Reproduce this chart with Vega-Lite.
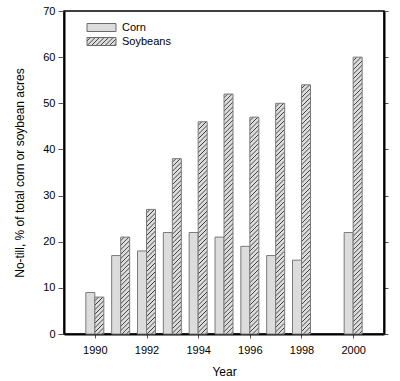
{
  "$schema": "https://vega.github.io/schema/vega-lite/v6.json",
  "width": 320,
  "height": 323,
  "autosize": "none",
  "padding": {"left": 64, "top": 11, "right": 16, "bottom": 47},
  "background": "white",
  "params": [
    {"name": "hatch", "value": [
      {"offset":0,"color":"#dcdcdc"},{"offset":0.006,"color":"#dcdcdc"},{"offset":0.008,"color":"#333333"},
      {"offset":0.01,"color":"#dcdcdc"},{"offset":0.016,"color":"#dcdcdc"},{"offset":0.018,"color":"#333333"},
      {"offset":0.02,"color":"#dcdcdc"},{"offset":0.026,"color":"#dcdcdc"},{"offset":0.028,"color":"#333333"},
      {"offset":0.03,"color":"#dcdcdc"},{"offset":0.036,"color":"#dcdcdc"},{"offset":0.038,"color":"#333333"},
      {"offset":0.04,"color":"#dcdcdc"},{"offset":0.046,"color":"#dcdcdc"},{"offset":0.048,"color":"#333333"},
      {"offset":0.05,"color":"#dcdcdc"},{"offset":0.056,"color":"#dcdcdc"},{"offset":0.058,"color":"#333333"},
      {"offset":0.06,"color":"#dcdcdc"},{"offset":0.066,"color":"#dcdcdc"},{"offset":0.068,"color":"#333333"},
      {"offset":0.07,"color":"#dcdcdc"},{"offset":0.076,"color":"#dcdcdc"},{"offset":0.078,"color":"#333333"},
      {"offset":0.08,"color":"#dcdcdc"},{"offset":0.086,"color":"#dcdcdc"},{"offset":0.088,"color":"#333333"},
      {"offset":0.09,"color":"#dcdcdc"},{"offset":0.096,"color":"#dcdcdc"},{"offset":0.098,"color":"#333333"},
      {"offset":0.10,"color":"#dcdcdc"},{"offset":0.106,"color":"#dcdcdc"},{"offset":0.108,"color":"#333333"},
      {"offset":0.11,"color":"#dcdcdc"},{"offset":0.116,"color":"#dcdcdc"},{"offset":0.118,"color":"#333333"},
      {"offset":0.12,"color":"#dcdcdc"},{"offset":0.126,"color":"#dcdcdc"},{"offset":0.128,"color":"#333333"},
      {"offset":0.13,"color":"#dcdcdc"},{"offset":0.136,"color":"#dcdcdc"},{"offset":0.138,"color":"#333333"},
      {"offset":0.14,"color":"#dcdcdc"},{"offset":0.146,"color":"#dcdcdc"},{"offset":0.148,"color":"#333333"},
      {"offset":0.15,"color":"#dcdcdc"},{"offset":0.156,"color":"#dcdcdc"},{"offset":0.158,"color":"#333333"},
      {"offset":0.16,"color":"#dcdcdc"},{"offset":0.166,"color":"#dcdcdc"},{"offset":0.168,"color":"#333333"},
      {"offset":0.17,"color":"#dcdcdc"},{"offset":0.176,"color":"#dcdcdc"},{"offset":0.178,"color":"#333333"},
      {"offset":0.18,"color":"#dcdcdc"},{"offset":0.186,"color":"#dcdcdc"},{"offset":0.188,"color":"#333333"},
      {"offset":0.19,"color":"#dcdcdc"},{"offset":0.196,"color":"#dcdcdc"},{"offset":0.198,"color":"#333333"},
      {"offset":0.20,"color":"#dcdcdc"},{"offset":0.206,"color":"#dcdcdc"},{"offset":0.208,"color":"#333333"},
      {"offset":0.21,"color":"#dcdcdc"},{"offset":0.216,"color":"#dcdcdc"},{"offset":0.218,"color":"#333333"},
      {"offset":0.22,"color":"#dcdcdc"},{"offset":0.226,"color":"#dcdcdc"},{"offset":0.228,"color":"#333333"},
      {"offset":0.23,"color":"#dcdcdc"},{"offset":0.236,"color":"#dcdcdc"},{"offset":0.238,"color":"#333333"},
      {"offset":0.24,"color":"#dcdcdc"},{"offset":0.246,"color":"#dcdcdc"},{"offset":0.248,"color":"#333333"},
      {"offset":0.25,"color":"#dcdcdc"},{"offset":0.256,"color":"#dcdcdc"},{"offset":0.258,"color":"#333333"},
      {"offset":0.26,"color":"#dcdcdc"},{"offset":0.266,"color":"#dcdcdc"},{"offset":0.268,"color":"#333333"},
      {"offset":0.27,"color":"#dcdcdc"},{"offset":0.276,"color":"#dcdcdc"},{"offset":0.278,"color":"#333333"},
      {"offset":0.28,"color":"#dcdcdc"},{"offset":0.286,"color":"#dcdcdc"},{"offset":0.288,"color":"#333333"},
      {"offset":0.29,"color":"#dcdcdc"},{"offset":0.296,"color":"#dcdcdc"},{"offset":0.298,"color":"#333333"},
      {"offset":0.30,"color":"#dcdcdc"},{"offset":0.306,"color":"#dcdcdc"},{"offset":0.308,"color":"#333333"},
      {"offset":0.31,"color":"#dcdcdc"},{"offset":0.316,"color":"#dcdcdc"},{"offset":0.318,"color":"#333333"},
      {"offset":0.32,"color":"#dcdcdc"},{"offset":0.326,"color":"#dcdcdc"},{"offset":0.328,"color":"#333333"},
      {"offset":0.33,"color":"#dcdcdc"},{"offset":0.336,"color":"#dcdcdc"},{"offset":0.338,"color":"#333333"},
      {"offset":0.34,"color":"#dcdcdc"},{"offset":0.346,"color":"#dcdcdc"},{"offset":0.348,"color":"#333333"},
      {"offset":0.35,"color":"#dcdcdc"},{"offset":0.356,"color":"#dcdcdc"},{"offset":0.358,"color":"#333333"},
      {"offset":0.36,"color":"#dcdcdc"},{"offset":0.366,"color":"#dcdcdc"},{"offset":0.368,"color":"#333333"},
      {"offset":0.37,"color":"#dcdcdc"},{"offset":0.376,"color":"#dcdcdc"},{"offset":0.378,"color":"#333333"},
      {"offset":0.38,"color":"#dcdcdc"},{"offset":0.386,"color":"#dcdcdc"},{"offset":0.388,"color":"#333333"},
      {"offset":0.39,"color":"#dcdcdc"},{"offset":0.396,"color":"#dcdcdc"},{"offset":0.398,"color":"#333333"},
      {"offset":0.40,"color":"#dcdcdc"},{"offset":0.406,"color":"#dcdcdc"},{"offset":0.408,"color":"#333333"},
      {"offset":0.41,"color":"#dcdcdc"},{"offset":0.416,"color":"#dcdcdc"},{"offset":0.418,"color":"#333333"},
      {"offset":0.42,"color":"#dcdcdc"},{"offset":0.426,"color":"#dcdcdc"},{"offset":0.428,"color":"#333333"},
      {"offset":0.43,"color":"#dcdcdc"},{"offset":0.436,"color":"#dcdcdc"},{"offset":0.438,"color":"#333333"},
      {"offset":0.44,"color":"#dcdcdc"},{"offset":0.446,"color":"#dcdcdc"},{"offset":0.448,"color":"#333333"},
      {"offset":0.45,"color":"#dcdcdc"},{"offset":0.456,"color":"#dcdcdc"},{"offset":0.458,"color":"#333333"},
      {"offset":0.46,"color":"#dcdcdc"},{"offset":0.466,"color":"#dcdcdc"},{"offset":0.468,"color":"#333333"},
      {"offset":0.47,"color":"#dcdcdc"},{"offset":0.476,"color":"#dcdcdc"},{"offset":0.478,"color":"#333333"},
      {"offset":0.48,"color":"#dcdcdc"},{"offset":0.486,"color":"#dcdcdc"},{"offset":0.488,"color":"#333333"},
      {"offset":0.49,"color":"#dcdcdc"},{"offset":0.496,"color":"#dcdcdc"},{"offset":0.498,"color":"#333333"},
      {"offset":0.50,"color":"#dcdcdc"},{"offset":0.506,"color":"#dcdcdc"},{"offset":0.508,"color":"#333333"},
      {"offset":0.51,"color":"#dcdcdc"},{"offset":0.516,"color":"#dcdcdc"},{"offset":0.518,"color":"#333333"},
      {"offset":0.52,"color":"#dcdcdc"},{"offset":0.526,"color":"#dcdcdc"},{"offset":0.528,"color":"#333333"},
      {"offset":0.53,"color":"#dcdcdc"},{"offset":0.536,"color":"#dcdcdc"},{"offset":0.538,"color":"#333333"},
      {"offset":0.54,"color":"#dcdcdc"},{"offset":0.546,"color":"#dcdcdc"},{"offset":0.548,"color":"#333333"},
      {"offset":0.55,"color":"#dcdcdc"},{"offset":0.556,"color":"#dcdcdc"},{"offset":0.558,"color":"#333333"},
      {"offset":0.56,"color":"#dcdcdc"},{"offset":0.566,"color":"#dcdcdc"},{"offset":0.568,"color":"#333333"},
      {"offset":0.57,"color":"#dcdcdc"},{"offset":0.576,"color":"#dcdcdc"},{"offset":0.578,"color":"#333333"},
      {"offset":0.58,"color":"#dcdcdc"},{"offset":0.586,"color":"#dcdcdc"},{"offset":0.588,"color":"#333333"},
      {"offset":0.59,"color":"#dcdcdc"},{"offset":0.596,"color":"#dcdcdc"},{"offset":0.598,"color":"#333333"},
      {"offset":0.60,"color":"#dcdcdc"},{"offset":0.606,"color":"#dcdcdc"},{"offset":0.608,"color":"#333333"},
      {"offset":0.61,"color":"#dcdcdc"},{"offset":0.616,"color":"#dcdcdc"},{"offset":0.618,"color":"#333333"},
      {"offset":0.62,"color":"#dcdcdc"},{"offset":0.626,"color":"#dcdcdc"},{"offset":0.628,"color":"#333333"},
      {"offset":0.63,"color":"#dcdcdc"},{"offset":0.636,"color":"#dcdcdc"},{"offset":0.638,"color":"#333333"},
      {"offset":0.64,"color":"#dcdcdc"},{"offset":0.646,"color":"#dcdcdc"},{"offset":0.648,"color":"#333333"},
      {"offset":0.65,"color":"#dcdcdc"}
    ]}
  ],
  "data": {"values": [
    {"Year": 1990, "Crop": "Corn", "Value": 9},
    {"Year": 1991, "Crop": "Corn", "Value": 17},
    {"Year": 1992, "Crop": "Corn", "Value": 18},
    {"Year": 1993, "Crop": "Corn", "Value": 22},
    {"Year": 1994, "Crop": "Corn", "Value": 22},
    {"Year": 1995, "Crop": "Corn", "Value": 21},
    {"Year": 1996, "Crop": "Corn", "Value": 19},
    {"Year": 1997, "Crop": "Corn", "Value": 17},
    {"Year": 1998, "Crop": "Corn", "Value": 16},
    {"Year": 2000, "Crop": "Corn", "Value": 22},
    {"Year": 1990, "Crop": "Soybeans", "Value": 8},
    {"Year": 1991, "Crop": "Soybeans", "Value": 21},
    {"Year": 1992, "Crop": "Soybeans", "Value": 27},
    {"Year": 1993, "Crop": "Soybeans", "Value": 38},
    {"Year": 1994, "Crop": "Soybeans", "Value": 46},
    {"Year": 1995, "Crop": "Soybeans", "Value": 52},
    {"Year": 1996, "Crop": "Soybeans", "Value": 47},
    {"Year": 1997, "Crop": "Soybeans", "Value": 50},
    {"Year": 1998, "Crop": "Soybeans", "Value": 54},
    {"Year": 2000, "Crop": "Soybeans", "Value": 60}
  ]},
  "layer": [
    {
      "mark": {"type": "bar", "width": 9, "stroke": "#7a7a7a", "strokeWidth": 1,
               "xOffset": {"expr": "datum.Crop == 'Corn' ? -4.5 : 4.5"}},
      "encoding": {
        "x": {"field": "Year", "type": "quantitative",
              "scale": {"domain": [1989, 2001], "nice": false, "zero": false},
              "axis": {"values": [1990,1991,1992,1993,1994,1995,1996,1997,1998,1999,2000],
                       "labelExpr": "datum.value % 2 == 0 ? datum.label : ''",
                       "format": "d", "tickSize": 4, "labelPadding": 6, "title": "Year", "titlePadding": 11}},
        "y": {"field": "Value", "type": "quantitative", "stack": null,
              "scale": {"domain": [0, 70], "nice": false},
              "axis": {"values": [0,10,20,30,40,50,60,70], "tickSize": 6, "labelPadding": 3,
                       "title": "No-till, % of total corn or soybean acres", "titlePadding": 16}},
        "fill": {"field": "Crop", "type": "nominal",
                 "scale": {"domain": ["Corn", "Soybeans"],
                           "range": ["#dcdcdc", {"expr": "{gradient: 'linear', x1: 0, y1: 0, x2: 14.42, y2: 3.98, stops: hatch}"}]},
                 "condition": {"test": "datum.Crop == 'Soybeans'",
                   "value": {"expr": "{gradient: 'linear', x1: 0, y1: 0, x2: 4050 / (81 + pow(scale('y', 0) - scale('y', datum.Value), 2)), y2: 450 * (scale('y', 0) - scale('y', datum.Value)) / (81 + pow(scale('y', 0) - scale('y', datum.Value), 2)), stops: hatch}"}},
                 "legend": {"orient": "none", "legendX": 32, "legendY": 11, "title": null,
                            "symbolType": "M-3.625,-1H3.625V1H-3.625Z", "symbolSize": 64,
                            "symbolStrokeColor": "#6a6a6a", "symbolStrokeWidth": 1,
                            "labelFontSize": 11, "labelOffset": 15, "rowPadding": 1, "padding": 0}}
      }
    },
    {
      "mark": {"type": "point", "opacity": 0},
      "encoding": {
        "x": {"field": "Year", "type": "quantitative"},
        "y": {"field": "Value", "type": "quantitative",
              "axis": {"orient": "right", "labels": false, "title": null, "values": [0,10,20,30,40,50,60,70], "tickSize": 4}}
      }
    }
  ],
  "resolve": {"axis": {"y": "independent"}},
  "config": {
    "font": "Liberation Sans",
    "bar": {"stroke": "#6a6a6a", "strokeWidth": 1},
    "view": {"stroke": "black", "strokeWidth": 1.5},
    "axis": {"domainColor": "black", "domainWidth": 2, "tickColor": "#555555", "tickWidth": 1,
             "labelColor": "black", "titleColor": "black", "labelFontSize": 11, "titleFontSize": 12,
             "titleFontWeight": "normal", "grid": false, "labelFont": "Liberation Sans", "titleFont": "Liberation Sans"},
    "legend": {"labelFont": "Liberation Sans", "labelColor": "black"}
  }
}
